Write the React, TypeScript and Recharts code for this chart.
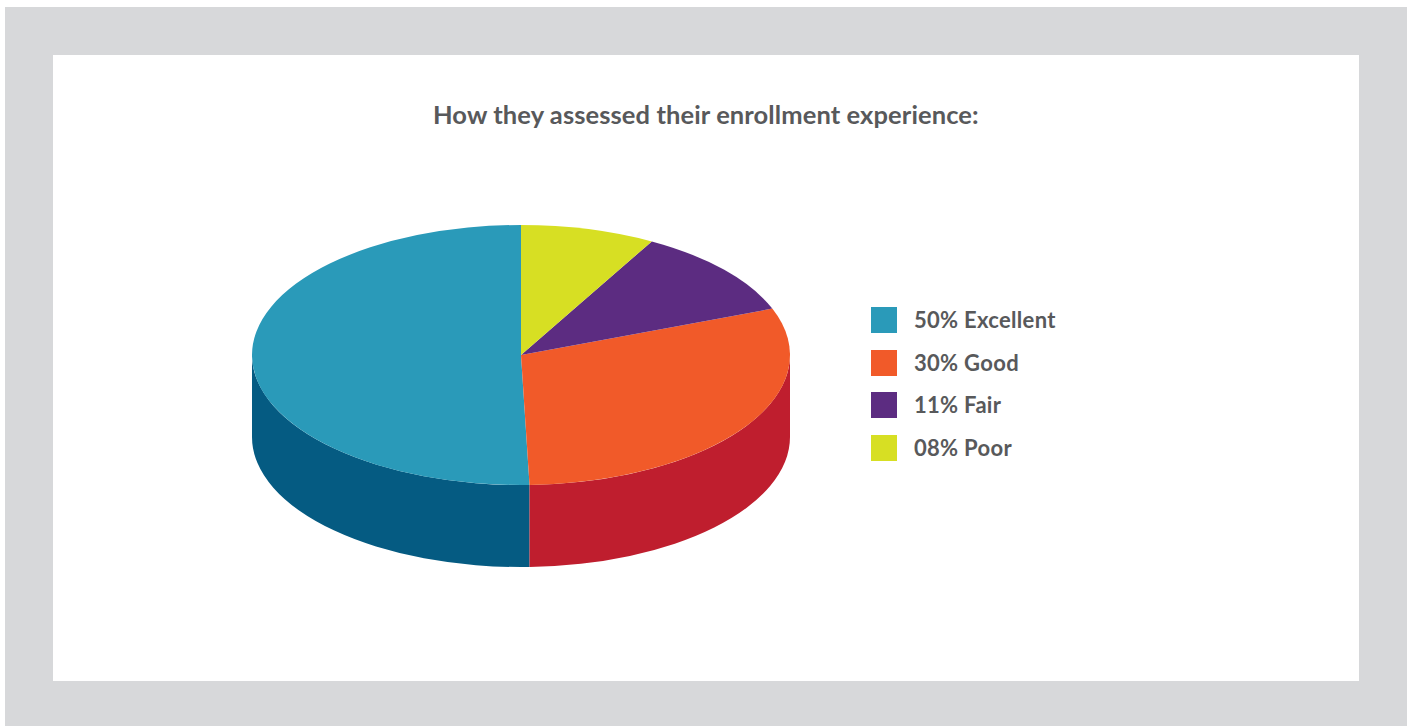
import { Cell, Legend, Pie, PieChart } from 'recharts';

const title = 'How they assessed their enrollment experience:';
const categories = ['Excellent', 'Good', 'Fair', 'Poor'];
const shares = [50, 30, 11, 8];
const shareLabels = ['50%', '30%', '11%', '08%'];
const topColors = ['#2a9ab9', '#f15a29', '#5c2c81', '#d7df23'];
const wallColors = ['#055b82', '#bf1e2e', '#3f1d5c', '#a8ae1a'];

const TILT = 130 / 269;
const DEPTH = 82;
const textColor = '#58595b';
const font = 'Lato, sans-serif';

const tableData = categories.map((name, i) => ({ name, value: shares[i] }));

// Flat sector plus, for the part facing the viewer, a side wall under the rim.
function DiscSlice(props: any) {
  const { cx, cy, outerRadius, startAngle, endAngle, fill, payload } = props;
  const rx = outerRadius;
  const ry = outerRadius * TILT;
  const at = (deg: number, drop = 0) => {
    const rad = (deg * Math.PI) / 180;
    return `${cx + rx * Math.cos(rad)} ${cy - ry * Math.sin(rad) + drop}`;
  };
  const large = Math.abs(endAngle - startAngle) > 180 ? 1 : 0;
  const top = `M ${cx} ${cy} L ${at(startAngle)} A ${rx} ${ry} 0 ${large} 0 ${at(endAngle)} Z`;

  const wallFrom = Math.max(startAngle, 180);
  const wallTo = Math.min(endAngle, 360);
  const wallColor = wallColors[categories.indexOf(payload?.name ?? props.name)];

  return (
    <g>
      {wallTo > wallFrom && (
        <path
          fill={wallColor}
          d={`M ${at(wallFrom)} A ${rx} ${ry} 0 0 0 ${at(wallTo)} L ${at(wallTo, DEPTH)} A ${rx} ${ry} 0 0 1 ${at(wallFrom, DEPTH)} Z`}
        />
      )}
      <path fill={fill} d={top} />
    </g>
  );
}

function LegendList() {
  const rows = [307, 350, 392, 435];
  return (
    <div style={{ position: 'relative', width: 260, height: 170 }}>
      {categories.map((name, i) => (
        <div
          key={name}
          style={{
            position: 'absolute',
            left: 0,
            top: rows[i] - rows[0],
            height: 26,
            display: 'flex',
            alignItems: 'center',
            fontFamily: font,
            fontSize: 22,
            fontWeight: 700,
            letterSpacing: 0.3,
            color: textColor,
            whiteSpace: 'nowrap',
          }}
        >
          <span style={{ width: 26, height: 26, marginRight: 17, background: topColors[i] }} />
          <span style={{ position: 'relative', top: -1 }}>
            {shareLabels[i]} {name}
          </span>
        </div>
      ))}
    </div>
  );
}

export default function App() {
  return (
    <div style={{ position: 'absolute', left: 0, top: 0, width: 1413, height: 726, background: '#fff', overflow: 'hidden' }}>
      <div style={{ position: 'absolute', left: 5, top: 7, width: 1402, height: 719, background: '#d7d8da' }} />
      <div style={{ position: 'absolute', left: 53, top: 55, width: 1306, height: 626, background: '#fff' }} />
      <div
        style={{
          position: 'absolute',
          left: 433,
          top: 99,
          fontFamily: font,
          fontSize: 25.5,
          fontWeight: 700,
          letterSpacing: 0.1,
          color: textColor,
          whiteSpace: 'nowrap',
        }}
      >
        {title}
      </div>
      <div style={{ position: 'absolute', left: 0, top: 0 }}>
        <PieChart width={1413} height={726} margin={{ top: 0, right: 0, bottom: 0, left: 0 }}>
          <Pie
            data={tableData}
            dataKey="value"
            nameKey="name"
            cx={521}
            cy={355}
            innerRadius={0}
            outerRadius={269}
            startAngle={90}
            endAngle={450}
            stroke="none"
            shape={DiscSlice}
            isAnimationActive={false}
          >
            {tableData.map((entry, i) => (
              <Cell key={entry.name} fill={topColors[i]} />
            ))}
          </Pie>
          <Legend
            content={() => <LegendList />}
            layout="vertical"
            wrapperStyle={{ position: 'absolute', left: 871, top: 307, width: 260, margin: 0 }}
          />
        </PieChart>
      </div>
    </div>
  );
}
